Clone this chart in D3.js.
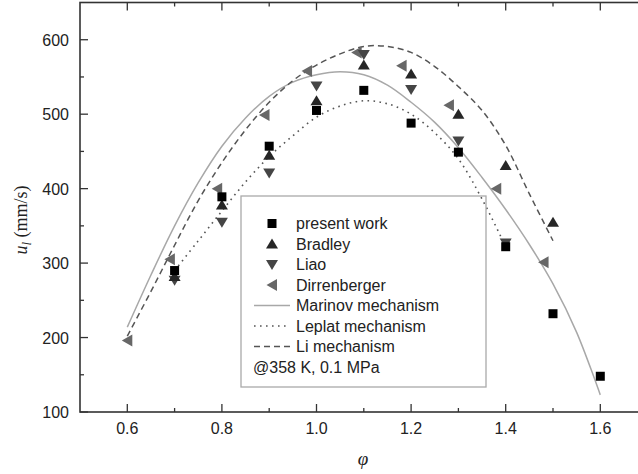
<!DOCTYPE html>
<html>
<head>
<meta charset="utf-8">
<script src="https://cdn.jsdelivr.net/npm/d3@7"></script>
<style>
  html, body { margin: 0; padding: 0; background: #fff; overflow: hidden; }
  svg { display: block; }
</style>
</head>
<body>
<svg id="chart" width="638" height="474"></svg>
<script>
// ---------------- DATA ----------------
const xTicksMajor = [0.6, 0.8, 1.0, 1.2, 1.4, 1.6];
const xTicksMinor = [0.7, 0.9, 1.1, 1.3, 1.5];
const yTicksMajor = [100, 200, 300, 400, 500, 600];
const yTicksMinor = [150, 250, 350, 450, 550];

const presentPhi = [0.7, 0.8, 0.9, 1.0, 1.1, 1.2, 1.3, 1.4, 1.5, 1.6];
const presentU   = [290, 389, 457, 505, 532, 488, 449, 322, 232, 148];

const bradleyPhi = [0.7, 0.8, 0.9, 1.0, 1.1, 1.2, 1.3, 1.4, 1.5];
const bradleyU   = [282, 378, 445, 518, 566, 554, 500, 431, 355];

const liaoPhi = [0.7, 0.8, 0.9, 1.0, 1.1, 1.2, 1.3, 1.4];
const liaoU   = [277, 355, 421, 538, 580, 533, 464, 327];

const dirrPhi = [0.6, 0.69, 0.79, 0.89, 0.98, 1.085, 1.18, 1.28, 1.38, 1.48];
const dirrU   = [196, 305, 400, 499, 558, 583, 565, 512, 400, 301];

const marinovPhi = [0.60,0.65,0.70,0.75,0.80,0.85,0.90,0.95,1.00,1.05,1.10,1.15,1.20,1.25,1.30,1.35,1.40,1.45,1.50,1.55,1.60];
const marinovU   = [214, 284, 350, 408, 457, 495, 524, 543, 553, 557, 553, 539, 516, 489, 455, 415, 372, 325, 272, 207, 123];

const leplatPhi = [0.70,0.75,0.80,0.85,0.90,0.95,1.00,1.05,1.10,1.15,1.20,1.25,1.30,1.35,1.40];
const leplatU   = [290, 330, 370, 409, 443, 471, 496, 511, 518, 514, 500, 475, 440, 386, 322];

const liPhi = [0.60,0.65,0.70,0.75,0.80,0.85,0.90,0.95,1.00,1.05,1.10,1.15,1.20,1.25,1.30,1.35,1.40,1.45,1.50];
const liU   = [202, 262, 324, 384, 435, 479, 516, 545, 566, 581, 591, 591, 583, 564, 537, 505, 458, 393, 330];

const legendLabels = ["present work", "Bradley", "Liao", "Dirrenberger",
                      "Marinov mechanism", "Leplat mechanism", "Li mechanism"];
const noteText = "@358 K, 0.1 MPa";

// ---------------- LAYOUT ----------------
const svg = d3.select("#chart");
const x = d3.scaleLinear().domain([0.5, 1.7]).range([80, 647.6]);
const y = d3.scaleLinear().domain([100, 650]).range([412, 2.5]);

const axisColor = "#333";
const sans = "'Liberation Sans', Arial, sans-serif";
const serif = "'Liberation Serif', 'Times New Roman', serif";

// ---------------- CURVES ----------------
const line = d3.line().x(d => x(d[0])).y(d => y(d[1])).curve(d3.curveCatmullRom.alpha(0.5));
const zip = (a, b) => a.map((v, i) => [v, b[i]]);

const curveStyles = [
  { phi: marinovPhi, u: marinovU, stroke: "#a8a8a8", width: 1.5, dash: null },
  { phi: leplatPhi,  u: leplatU,  stroke: "#555",    width: 1.6, dash: "1.6,4.4" },
  { phi: liPhi,      u: liU,      stroke: "#555",    width: 1.5, dash: "6,4" }
];
curveStyles.forEach(c => {
  svg.append("path")
    .attr("d", line(zip(c.phi, c.u)))
    .attr("fill", "none")
    .attr("stroke", c.stroke)
    .attr("stroke-width", c.width)
    .attr("stroke-dasharray", c.dash);
});

// ---------------- MARKERS ----------------
const shapes = {
  square: "M-4.5,-4.5H4.5V4.5H-4.5Z",
  up: "M0,-5.5L6,4.5L-6,4.5Z",
  down: "M0,5.5L6,-4.5L-6,-4.5Z",
  left: "M-5.5,0L5,-6L5,6Z"
};
const series = [
  { phi: dirrPhi,    u: dirrU,    shape: "left",   fill: "#676767" },
  { phi: liaoPhi,    u: liaoU,    shape: "down",   fill: "#454545" },
  { phi: bradleyPhi, u: bradleyU, shape: "up",     fill: "#262626" },
  { phi: presentPhi, u: presentU, shape: "square", fill: "#000" }
];
series.forEach(s => {
  svg.append("g").selectAll("path")
    .data(zip(s.phi, s.u))
    .join("path")
    .attr("d", shapes[s.shape])
    .attr("transform", d => `translate(${x(d[0])},${y(d[1])})`)
    .attr("fill", s.fill);
});

// ---------------- AXES ----------------
const frame = svg.append("g");
frame.append("rect")
  .attr("x", x(0.5)).attr("y", y(650))
  .attr("width", x(1.7) - x(0.5)).attr("height", y(100) - y(650))
  .attr("fill", "none").attr("stroke", axisColor).attr("stroke-width", 1.6);

function xTicks(vals, len) {
  vals.forEach(v => {
    frame.append("line").attr("x1", x(v)).attr("x2", x(v))
      .attr("y1", y(100)).attr("y2", y(100) - len)
      .attr("stroke", axisColor).attr("stroke-width", 1.3);
    frame.append("line").attr("x1", x(v)).attr("x2", x(v))
      .attr("y1", y(650)).attr("y2", y(650) + len)
      .attr("stroke", axisColor).attr("stroke-width", 1.3);
  });
}
function yTicks(vals, len) {
  vals.forEach(v => {
    frame.append("line").attr("x1", x(0.5)).attr("x2", x(0.5) + len)
      .attr("y1", y(v)).attr("y2", y(v))
      .attr("stroke", axisColor).attr("stroke-width", 1.3);
    frame.append("line").attr("x1", x(1.7)).attr("x2", x(1.7) - len)
      .attr("y1", y(v)).attr("y2", y(v))
      .attr("stroke", axisColor).attr("stroke-width", 1.3);
  });
}
xTicks(xTicksMajor, 8);
xTicks(xTicksMinor, 4);
yTicks(yTicksMajor, 8);
yTicks(yTicksMinor, 4);

svg.append("g").selectAll("text")
  .data(xTicksMajor).join("text")
  .attr("x", d => x(d)).attr("y", 434)
  .attr("text-anchor", "middle")
  .attr("font-family", sans).attr("font-size", 16).attr("fill", "#222")
  .text(d => d.toFixed(1));

svg.append("g").selectAll("text")
  .data(yTicksMajor).join("text")
  .attr("x", 69).attr("y", d => y(d) + 6)
  .attr("text-anchor", "end")
  .attr("font-family", sans).attr("font-size", 16).attr("fill", "#222")
  .text(d => d);

// axis titles
const yl = svg.append("text")
  .attr("transform", "translate(27,220) rotate(-90)")
  .attr("text-anchor", "middle")
  .attr("font-family", serif).attr("font-size", 18).attr("fill", "#222");
yl.append("tspan").attr("font-style", "italic").text("u");
yl.append("tspan").attr("font-style", "italic").attr("font-size", 13).attr("dy", 4).text("l");
yl.append("tspan").attr("dy", -4).text(" (mm/s)");

svg.append("text")
  .attr("x", 363).attr("y", 465)
  .attr("text-anchor", "middle")
  .attr("font-family", serif).attr("font-style", "italic")
  .attr("font-size", 19).attr("fill", "#222")
  .text("φ");

// ---------------- LEGEND ----------------
const lg = svg.append("g");
lg.append("rect")
  .attr("x", 241).attr("y", 196).attr("width", 245).attr("height", 191)
  .attr("fill", "none").attr("stroke", "#aaa").attr("stroke-width", 1.3);

const rowY = i => 223.5 + i * 20.5;
const legendMarkers = [
  { shape: "square", fill: "#000" },
  { shape: "up", fill: "#262626" },
  { shape: "down", fill: "#454545" },
  { shape: "left", fill: "#676767" }
];
legendMarkers.forEach((m, i) => {
  lg.append("path").attr("d", shapes[m.shape])
    .attr("transform", `translate(272,${rowY(i)})`)
    .attr("fill", m.fill);
});
curveStyles.forEach((c, j) => {
  const i = j + 4;
  lg.append("line").attr("x1", 254).attr("x2", 290)
    .attr("y1", rowY(i)).attr("y2", rowY(i))
    .attr("stroke", c.stroke).attr("stroke-width", c.width)
    .attr("stroke-dasharray", c.dash);
});
legendLabels.forEach((t, i) => {
  lg.append("text").attr("x", 296).attr("y", rowY(i) + 5.5)
    .attr("font-family", sans).attr("font-size", 16).attr("fill", "#222")
    .text(t);
});
lg.append("text").attr("x", 253).attr("y", rowY(7) + 5.5)
  .attr("font-family", sans).attr("font-size", 16).attr("fill", "#222")
  .text(noteText);
</script>
</body>
</html>
